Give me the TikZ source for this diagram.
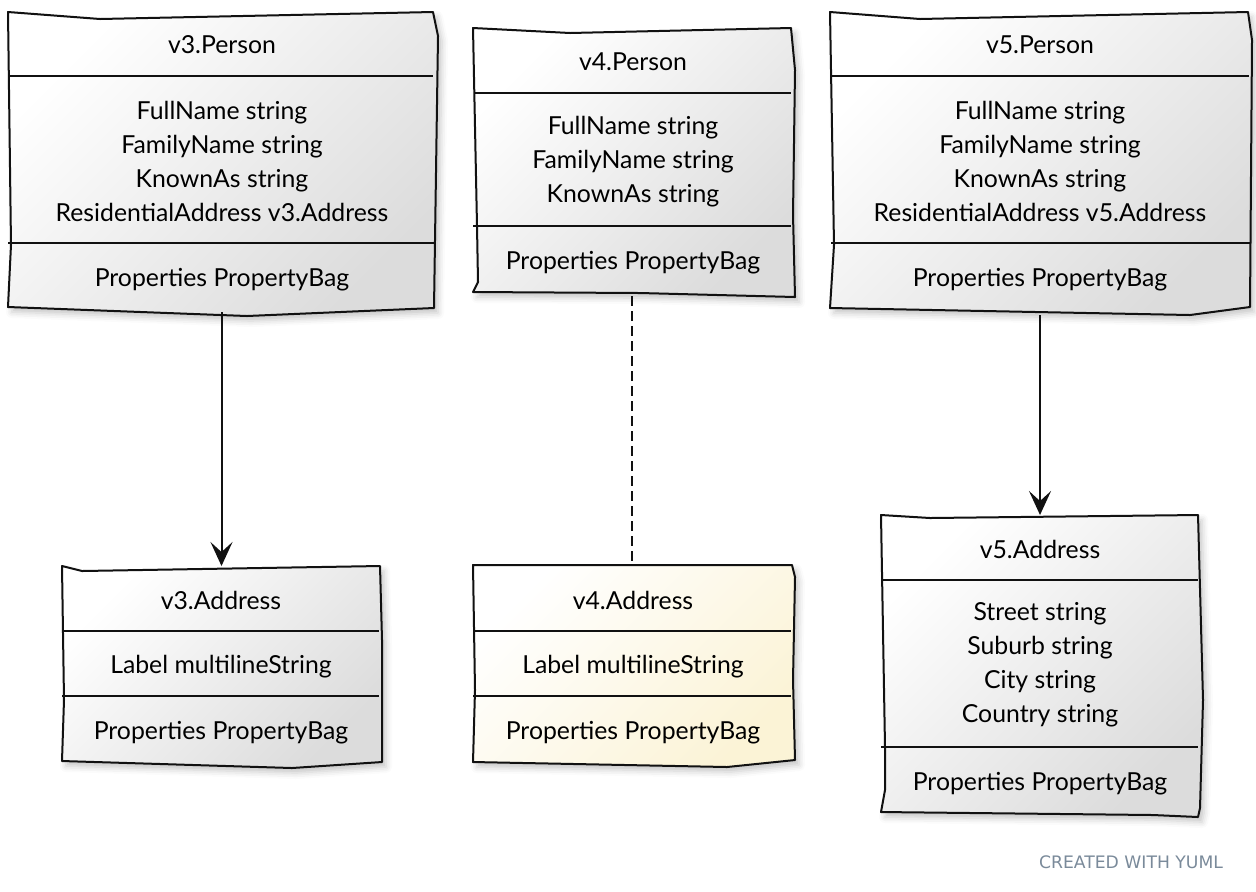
\documentclass[tikz,border=0pt]{standalone}
\usepackage{fontspec}
\setmainfont{Lato}
\newfontfamily\creditfont{DejaVu Sans}
\usetikzlibrary{arrows.meta,shadows.blur}

\definecolor{ink}{HTML}{111111}
\definecolor{greyend}{HTML}{DCDCDC}
\definecolor{creamend}{HTML}{FBF3D6}
\definecolor{credit}{HTML}{7A8A9A}

\tikzset{
  area/.style={inner sep=0pt, outer sep=0pt, rectangle},
  sketch/.style={draw=ink, line width=1pt, line join=round,
    blur shadow={shadow xshift=2pt, shadow yshift=-2.5pt,
      shadow blur radius=3pt, shadow opacity=22}},
  greybox/.style={sketch, top color=white, bottom color=greyend, shading angle=45},
  creambox/.style={sketch, top color=white, bottom color=creamend, shading angle=45},
  divider/.style={draw=ink, line width=1pt},
  txt/.style={inner sep=0pt, align=center, font=\fontsize{12.4}{17}\selectfont},
  assoc/.style={draw=ink, line width=1pt,
    -{Stealth[length=12pt, width=11pt, inset=5pt]}},
  dep/.style={draw=ink, line width=1pt, dash pattern=on 5pt off 2.5pt},
}

\begin{document}
\begin{tikzpicture}[x=0.5pt, y=-0.5pt]
\useasboundingbox (0,0) rectangle (1256,891);

% ---------- v3.Person ----------
\path[greybox] (8,12) -- (100,19) -- (433,12) -- (438,36) -- (434,308)
  -- (247,316) -- (8,307) -- (11,245) -- cycle;
\draw[divider] (8,76) -- (433,76);
\draw[divider] (8,243) -- (435,243);
\node[area, minimum width=214.5pt, minimum height=150pt] (v3p) at (222.5,162) {};
\node[txt] (v3p-title) at (222,45) {v3.Person};
\node[txt] (v3p-attr) at (222,161) {FullName string\\FamilyName string\\KnownAs string\\ResidentialAddress v3.Address};
\node[txt] (v3p-ops) at (222,280) {Properties PropertyBag};

% ---------- v4.Person ----------
\path[greybox] (473,28) -- (570,33) -- (791,28) -- (795,70) -- (793,215)
  -- (795,297) -- (640,293) -- (473,292) -- (478,282) -- (477,226) -- cycle;
\draw[divider] (474,93) -- (791,93);
\draw[divider] (473,226) -- (791,226);
\node[area, minimum width=161pt, minimum height=134pt] (v4p) at (634,162) {};
\node[txt] (v4p-title) at (633,62) {v4.Person};
\node[txt] (v4p-attr) at (633,162) {FullName string\\FamilyName string\\KnownAs string};
\node[txt] (v4p-ops) at (633,263) {Properties PropertyBag};

% ---------- v5.Person ----------
\path[greybox] (830,12) -- (920,19) -- (1248,12) -- (1252,40) -- (1250,307)
  -- (1190,315) -- (830,308) -- (834,245) -- cycle;
\draw[divider] (831,76) -- (1249,76);
\draw[divider] (831,243) -- (1250,243);
\node[area, minimum width=211pt, minimum height=151.5pt] (v5p) at (1041,163.5) {};
\node[txt] (v5p-title) at (1040,45) {v5.Person};
\node[txt] (v5p-attr) at (1040,161) {FullName string\\FamilyName string\\KnownAs string\\ResidentialAddress v5.Address};
\node[txt] (v5p-ops) at (1040,280) {Properties PropertyBag};

% ---------- v3.Address ----------
\path[greybox] (62,566) -- (82,571) -- (380,566) -- (382,640) -- (382,762)
  -- (292,768) -- (62,761) -- (64,700) -- cycle;
\draw[divider] (62,631) -- (379,631);
\draw[divider] (62,696) -- (379,696);
\node[area, minimum width=160pt, minimum height=100.5pt] (v3a) at (221.5,666.5) {};
\node[txt] (v3a-title) at (221,600) {v3.Address};
\node[txt] (v3a-attr) at (221,667) {Label multilineString};
\node[txt] (v3a-ops) at (221,733) {Properties PropertyBag};

% ---------- v4.Address ----------
\path[creambox] (473,565) -- (792,565) -- (795,577) -- (793,680) -- (795,760)
  -- (727,767) -- (473,762) -- (475,690) -- cycle;
\draw[divider] (473,631) -- (791,631);
\draw[divider] (473,696) -- (791,696);
\node[area, minimum width=161pt, minimum height=101pt] (v4a) at (632,666) {};
\node[txt] (v4a-title) at (633,600) {v4.Address};
\node[txt] (v4a-attr) at (633,667) {Label multilineString};
\node[txt] (v4a-ops) at (633,733) {Properties PropertyBag};

% ---------- v5.Address ----------
\path[greybox] (881,515) -- (930,518) -- (1198,515) -- (1203,700) -- (1200,808)
  -- (1198,817) -- (1153,815) -- (881,812) -- (885,790) -- (885,747) -- cycle;
\draw[divider] (882,580) -- (1198,580);
\draw[divider] (881,747) -- (1198,747);
\node[area, minimum width=159pt, minimum height=151pt] (v5a) at (1040,666) {};
\node[txt] (v5a-title) at (1040,549) {v5.Address};
\node[txt] (v5a-attr) at (1040,665) {Street string\\Suburb string\\City string\\Country string};
\node[txt] (v5a-ops) at (1040,784) {Properties PropertyBag};

% ---------- connectors ----------
\draw[assoc] (v3a.north |- v3p.south) -- (v3a.north);
\draw[dep] (v4a.north |- v4p.south) -- (v4a.north);
\draw[assoc] (v5a.north |- v5p.south) -- (v5a.north);

% ---------- credit ----------
\node[inner sep=0pt, text=credit, font=\creditfont\fontsize{8.6}{10}\selectfont] (credit) at (1131,862) {CREATED WITH YUML};
\end{tikzpicture}
\end{document}
